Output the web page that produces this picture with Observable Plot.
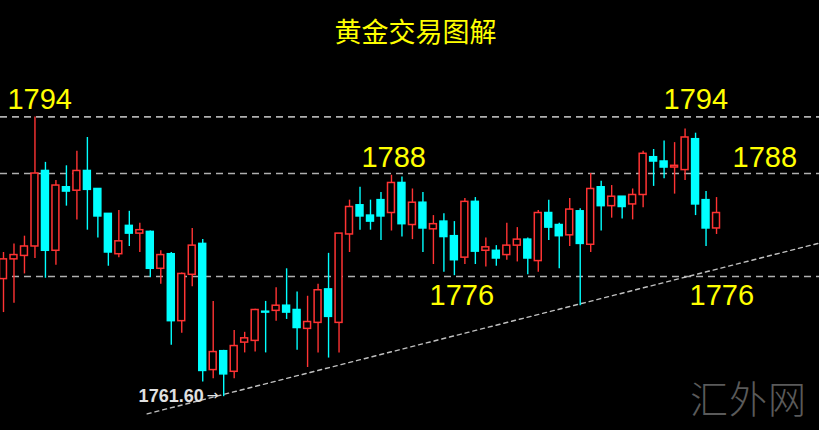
<!DOCTYPE html>
<html>
<head>
<meta charset="utf-8">
<script src="https://cdn.jsdelivr.net/npm/d3@7"></script>
<script src="https://cdn.jsdelivr.net/npm/@observablehq/plot@0.6"></script>
<style>
  html, body { margin: 0; padding: 0; background: #000; }
  #wrap { position: relative; width: 819px; height: 430px; overflow: hidden; background: #000; }
  #title { position: absolute; left: 6px; top: 17px; width: 819px; text-align: center;
           font-family: "Noto Sans CJK SC", sans-serif; font-size: 27px; line-height: 27px; color: #ffff00; }
  #mark { position: absolute; left: 690px; top: 378px; font-family: "Noto Sans CJK SC", sans-serif;
          font-weight: 300; font-size: 38px; line-height: 38px; color: #5a5a5a; letter-spacing: 1px; }
  #chart { position: absolute; left: 0; top: 0; }
</style>
</head>
<body>
<div id="wrap">
  <div id="chart"></div>
  <div id="title">黄金交易图解</div>
  <div id="mark">汇外网</div>
</div>
<script>
// OHLC values (one entry per candle, left to right)
const open = [1775.7,1778.0,1778.4,1779.5,1788.3,1779.0,1786.4,1786.0,1788.3,1786.2,
  1783.3,1778.6,1781.9,1781.0,1781.2,1776.9,1778.6,1770.8,1776.2,1779.8,
  1765.1,1767.3,1764.9,1768.3,1768.5,1771.9,1772.0,1772.6,1772.1,1769.9,
  1770.6,1774.5,1770.6,1780.9,1784.3,1783.1,1784.9,1783.4,1786.9,1782.0,
  1784.6,1781.5,1782.4,1780.7,1778.2,1784.7,1779.0,1779.0,1778.5,1779.6,
  1780.3,1777.8,1783.4,1782.0,1780.8,1783.6,1779.7,1786.4,1784.2,1785.3,
  1784.4,1785.5,1789.9,1789.4,1788.7,1788.4,1792.0,1784.9,1781.6];
const close = [1778.0,1778.5,1779.5,1788.0,1779.0,1786.6,1785.9,1788.3,1786.1,1783.0,
  1778.8,1780.1,1781.0,1781.4,1776.9,1778.5,1770.8,1776.3,1779.6,1765.0,
  1767.2,1764.6,1767.9,1768.8,1772.1,1771.8,1772.6,1771.8,1770.0,1770.7,
  1774.4,1771.3,1781.0,1784.1,1783.0,1782.4,1783.0,1786.9,1782.1,1784.6,
  1781.6,1782.1,1780.6,1777.9,1784.7,1778.9,1779.4,1778.1,1779.6,1780.3,
  1778.1,1783.4,1781.7,1780.7,1783.8,1779.8,1786.2,1784.2,1785.3,1784.1,
  1785.5,1790.3,1789.4,1788.7,1788.9,1792.2,1784.4,1781.6,1783.4];
const high = [1778.8,1779.8,1780.7,1794.6,1789.3,1787.2,1788.9,1790.6,1792.2,1786.2,
  1783.3,1783.7,1783.6,1782.2,1781.3,1779.0,1778.8,1776.4,1781.6,1780.3,
  1773.1,1767.4,1769.7,1769.5,1772.2,1773.1,1774.7,1776.9,1774.2,1773.7,
  1775.1,1778.7,1781.0,1784.9,1786.4,1784.9,1785.8,1787.8,1787.6,1786.2,
  1785.8,1783.1,1783.3,1782.4,1785.1,1785.2,1780.5,1779.6,1782.2,1781.7,
  1780.5,1783.7,1784.9,1782.2,1785.1,1783.9,1788.0,1787.1,1786.6,1785.3,
  1786.2,1790.6,1790.8,1791.8,1791.6,1793.2,1792.7,1785.9,1785.2];
const low = [1771.8,1772.9,1776.3,1778.1,1775.8,1777.3,1784.2,1782.6,1781.4,1780.5,
  1777.2,1778.2,1779.5,1778.8,1775.9,1775.1,1768.0,1769.4,1774.8,1763.7,
  1764.1,1762.0,1764.1,1767.1,1767.2,1767.1,1770.8,1771.0,1767.4,1765.4,
  1767.1,1766.5,1767.1,1778.8,1781.4,1781.4,1780.2,1781.3,1780.6,1780.3,
  1778.8,1777.4,1776.5,1776.1,1777.4,1777.4,1777.1,1777.2,1777.9,1777.7,
  1776.2,1776.5,1780.2,1776.9,1779.5,1772.6,1778.8,1781.3,1782.8,1782.7,
  1782.6,1784.0,1786.5,1787.4,1785.6,1787.2,1783.1,1779.5,1780.9];

// annotation levels and labels
const levels = [1794.6, 1788, 1776];
const labelText = ["1794", "1794", "1788", "1788", "1776", "1776"];
const labelX = [0.38, 62.95, 34.14, 69.53, 40.63, 65.43];
const labelY = [1794.6, 1794.6, 1788, 1788, 1776, 1776];
const labelDy = [-17, -17, -16, -16, 19, 19];

// support trend line (candle index, price)
const trendX = [13.7, 77.82];
const trendY = [1760.0, 1779.9];

// low marker
const lowText = "1761.60";
const lowIndex = 21;

const RED = "#ff3333", CYAN = "#00ffff";
const candles = open.map((o, i) => ({i, o, c: close[i], h: high[i], l: low[i], up: close[i] >= o}));
const labels = labelText.map((t, k) => ({t, x: labelX[k], y: labelY[k], dy: labelDy[k]}));
const trend = trendX.map((x, k) => ({x, y: trendY[k]}));
const bw = 0.33;
const lowPoint = [{x: lowIndex, y: low[lowIndex], t: lowText}];

const chart = Plot.plot({
  width: 819, height: 430, margin: 0,
  x: {domain: [-0.286, 77.82], axis: null},
  y: {domain: [1758.06, 1808.16], axis: null},
  color: {type: "identity"},
  style: {background: "#000"},
  marks: [
    Plot.ruleY(levels, {stroke: "#b0b0b0", strokeWidth: 1.6, strokeDasharray: "7,5"}),
    Plot.line(trend, {x: "x", y: "y", stroke: "#c0c0c0", strokeWidth: 1.4, strokeDasharray: "4,4"}),
    Plot.ruleX(candles, {x: "i", y1: "l", y2: "h", stroke: d => d.up ? RED : CYAN, strokeWidth: 1.4}),
    Plot.rect(candles, {x1: d => d.i - bw, x2: d => d.i + bw, y1: "o", y2: "c",
      fill: d => d.up ? "#000" : CYAN, stroke: d => d.up ? RED : CYAN, strokeWidth: 1.5}),
    ...labels.map(l => Plot.text([l], {x: "x", y: "y", text: "t", dy: l.dy, textAnchor: "start",
      fill: "#ffff00", fontSize: 29, fontFamily: "Liberation Sans, Arial, sans-serif"})),
    Plot.text(lowPoint, {x: "x", y: "y", text: "t", dx: -20,
      textAnchor: "end", fill: "#e0e0e0", fontSize: 18, fontWeight: "bold",
      fontFamily: "Liberation Sans, Arial, sans-serif"}),
    Plot.text(lowPoint, {x: "x", y: "y", text: () => "→", dx: -11, dy: -1,
      textAnchor: "middle", fill: "#e0e0e0", fontSize: 14, fontFamily: "DejaVu Sans, sans-serif"})
  ]
});
document.getElementById("chart").appendChild(chart);
</script>
</body>
</html>
